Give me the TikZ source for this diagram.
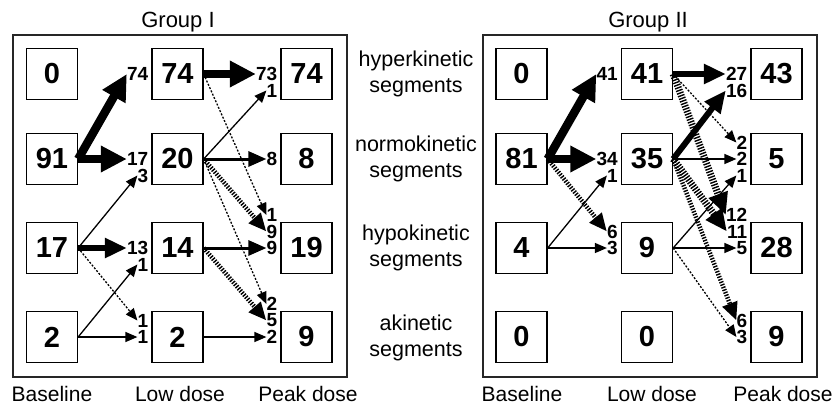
\documentclass[tikz,border=0pt]{standalone}
\usepackage{fontspec}
\setmainfont{Liberation Sans}
\usetikzlibrary{arrows.meta}

\tikzset{
  frame/.style={draw=black!85, line width=1.2pt},
  cell/.style={draw, line width=1.3pt, minimum size=51pt, inner sep=0pt,
    font=\fontsize{29}{29}\selectfont\bfseries},
  cnt/.style={inner sep=0pt, anchor=east, font=\fontsize{19}{19}\selectfont\bfseries},
  caption/.style={inner sep=0pt, font=\fontsize{21}{21}\selectfont},
  kind/.style={inner sep=0pt, align=center, font=\fontsize{21.5}{26}\selectfont},
  % arrow weights, by number of segments
  w1/.style={line width=1.3pt, -{Triangle[length=12pt,width=10pt]}},
  w2/.style={line width=3pt, -{Triangle[length=18pt,width=15pt]}},
  w3/.style={line width=6pt, -{Triangle[length=22pt,width=19pt]}},
  w4/.style={line width=8.5pt, -{Triangle[length=26pt,width=25pt]}},
  dots/.style={dash pattern=on 2pt off 1.6pt},
  hatchmid/.style={w2, line width=4.5pt, dash pattern=on 1.4pt off 1.4pt},
  hatchbig/.style={w3, line width=7pt, dash pattern=on 1.4pt off 1.4pt}
}

\begin{document}
\begin{tikzpicture}[x=1pt, y=-1pt, line join=miter]
\useasboundingbox (0,0) rectangle (834,405);

% frames and titles
\draw[frame] (13,35) rectangle (347,377);
\draw[frame] (483,35) rectangle (817,377);
\node[caption, font=\fontsize{22}{22}\selectfont, anchor=base] (tI) at (178,27) {Group I};
\node[caption, font=\fontsize{22}{22}\selectfont, anchor=base] (tII) at (648,27) {Group II};

% row names
\node[kind] (k1) at (416,74) {hyperkinetic\\segments};
\node[kind] (k2) at (416,159) {normokinetic\\segments};
\node[kind] (k3) at (416,248) {hypokinetic\\segments};
\node[kind] (k4) at (416,338) {akinetic\\segments};

% column names
\node[caption, anchor=base] (xI1) at (52,401) {Baseline};
\node[caption, anchor=base] (xI2) at (180,401) {Low dose};
\node[caption, anchor=base] (xI3) at (308,401) {Peak dose};
\node[caption, anchor=base] (xII1) at (522,401) {Baseline};
\node[caption, anchor=base] (xII2) at (652,401) {Low dose};
\node[caption, anchor=base] (xII3) at (783,401) {Peak dose};

% Group I boxes
\node[cell] (IB1) at (52,74) {0};
\node[cell] (IB2) at (52,159) {91};
\node[cell] (IB3) at (52,248) {17};
\node[cell] (IB4) at (52,337) {2};
\node[cell] (IL1) at (177.5,74) {74};
\node[cell] (IL2) at (177.5,159) {20};
\node[cell] (IL3) at (177.5,248) {14};
\node[cell] (IL4) at (177.5,337) {2};
\node[cell] (IP1) at (306.5,74) {74};
\node[cell] (IP2) at (306.5,159) {8};
\node[cell] (IP3) at (306.5,248) {19};
\node[cell] (IP4) at (306.5,337) {9};

% Group I counts
\node[cnt] (IL1a) at ([xshift=-3pt]IL1.west) {74};
\node[cnt] (IL2a) at ([xshift=-3pt]IL2.west) {17};
\node[cnt] (IL2b) at ([xshift=-3pt,yshift=-16.5pt]IL2.west) {3};
\node[cnt] (IL3a) at ([xshift=-3pt]IL3.west) {13};
\node[cnt] (IL3b) at ([xshift=-3pt,yshift=-16.5pt]IL3.west) {1};
\node[cnt] (IL4a) at ([xshift=-3pt,yshift=16.5pt]IL4.west) {1};
\node[cnt] (IL4b) at ([xshift=-3pt]IL4.west) {1};
\node[cnt] (IP1a) at ([xshift=-3pt]IP1.west) {73};
\node[cnt] (IP1b) at ([xshift=-3pt,yshift=-16.5pt]IP1.west) {1};
\node[cnt] (IP2a) at ([xshift=-3pt]IP2.west) {8};
\node[cnt] (IP3a) at ([xshift=-3pt,yshift=33pt]IP3.west) {1};
\node[cnt] (IP3b) at ([xshift=-3pt,yshift=16.5pt]IP3.west) {9};
\node[cnt] (IP3c) at ([xshift=-3pt]IP3.west) {9};
\node[cnt] (IP4a) at ([xshift=-3pt,yshift=33pt]IP4.west) {2};
\node[cnt] (IP4b) at ([xshift=-3pt,yshift=16.5pt]IP4.west) {5};
\node[cnt] (IP4c) at ([xshift=-3pt]IP4.west) {2};

% Group I flows
\draw[w4] (IB2.east) -- (IL1a.west);
\draw[w4] (IB2.east) -- (IL2a.west);
\draw[w1] (IB3.east) -- (IL2b.west);
\draw[w3] (IB3.east) -- (IL3a.west);
\draw[w1, dots] (IB3.east) -- (IL4a.west);
\draw[w1] (IB4.east) -- (IL3b.west);
\draw[w1] (IB4.east) -- (IL4b.west);
\draw[w4] (IL1.east) -- (IP1a.west);
\draw[w1, dots] (IL1.east) -- (IP3a.west);
\draw[w1] (IL2.east) -- (IP1b.west);
\draw[w2] (IL2.east) -- (IP2a.west);
\draw[hatchmid] (IL2.east) -- (IP3b.west);
\draw[w1, dots] (IL2.east) -- (IP4a.west);
\draw[w2] (IL3.east) -- (IP3c.west);
\draw[hatchmid] (IL3.east) -- (IP4b.west);
\draw[w1] (IL4.east) -- (IP4c.west);

% Group II boxes
\node[cell] (IIB1) at (521.5,74) {0};
\node[cell] (IIB2) at (521.5,159) {81};
\node[cell] (IIB3) at (521.5,248) {4};
\node[cell] (IIB4) at (521.5,337) {0};
\node[cell] (IIL1) at (647,74) {41};
\node[cell] (IIL2) at (647,159) {35};
\node[cell] (IIL3) at (647,248) {9};
\node[cell] (IIL4) at (647,337) {0};
\node[cell] (IIP1) at (776.5,74) {43};
\node[cell] (IIP2) at (776.5,159) {5};
\node[cell] (IIP3) at (776.5,248) {28};
\node[cell] (IIP4) at (776.5,337) {9};

% Group II counts
\node[cnt] (IIL1a) at ([xshift=-3pt]IIL1.west) {41};
\node[cnt] (IIL2a) at ([xshift=-3pt]IIL2.west) {34};
\node[cnt] (IIL2b) at ([xshift=-3pt,yshift=-16.5pt]IIL2.west) {1};
\node[cnt] (IIL3a) at ([xshift=-3pt,yshift=16.5pt]IIL3.west) {6};
\node[cnt] (IIL3b) at ([xshift=-3pt]IIL3.west) {3};
\node[cnt] (IIP1a) at ([xshift=-3pt]IIP1.west) {27};
\node[cnt] (IIP1b) at ([xshift=-3pt,yshift=-16.5pt]IIP1.west) {16};
\node[cnt] (IIP2a) at ([xshift=-3pt,yshift=16.5pt]IIP2.west) {2};
\node[cnt] (IIP2b) at ([xshift=-3pt]IIP2.west) {2};
\node[cnt] (IIP2c) at ([xshift=-3pt,yshift=-16.5pt]IIP2.west) {1};
\node[cnt] (IIP3a) at ([xshift=-3pt,yshift=33pt]IIP3.west) {12};
\node[cnt] (IIP3b) at ([xshift=-3pt,yshift=16.5pt]IIP3.west) {11};
\node[cnt] (IIP3c) at ([xshift=-3pt]IIP3.west) {5};
\node[cnt] (IIP4a) at ([xshift=-3pt,yshift=16.5pt]IIP4.west) {6};
\node[cnt] (IIP4b) at ([xshift=-3pt]IIP4.west) {3};

% Group II flows
\draw[w4] (IIB2.east) -- (IIL1a.west);
\draw[w4] (IIB2.east) -- (IIL2a.west);
\draw[hatchmid] (IIB2.east) -- (IIL3a.west);
\draw[w1] (IIB3.east) -- (IIL2b.west);
\draw[w1] (IIB3.east) -- (IIL3b.west);
\draw[w3] (IIL1.east) -- (IIP1a.west);
\draw[w1, dots] (IIL1.east) -- (IIP2a.west);
\draw[hatchbig] (IIL1.east) -- (IIP3a.west);
\draw[w3] (IIL2.east) -- (IIP1b.west);
\draw[w1] (IIL2.east) -- (IIP2b.west);
\draw[hatchbig] (IIL2.east) -- (IIP3b.west);
\draw[hatchmid] (IIL2.east) -- (IIP4a.west);
\draw[w1] (IIL3.east) -- (IIP2c.west);
\draw[w1] (IIL3.east) -- (IIP3c.west);
\draw[w1, dots] (IIL3.east) -- (IIP4b.west);
\end{tikzpicture}
\end{document}
